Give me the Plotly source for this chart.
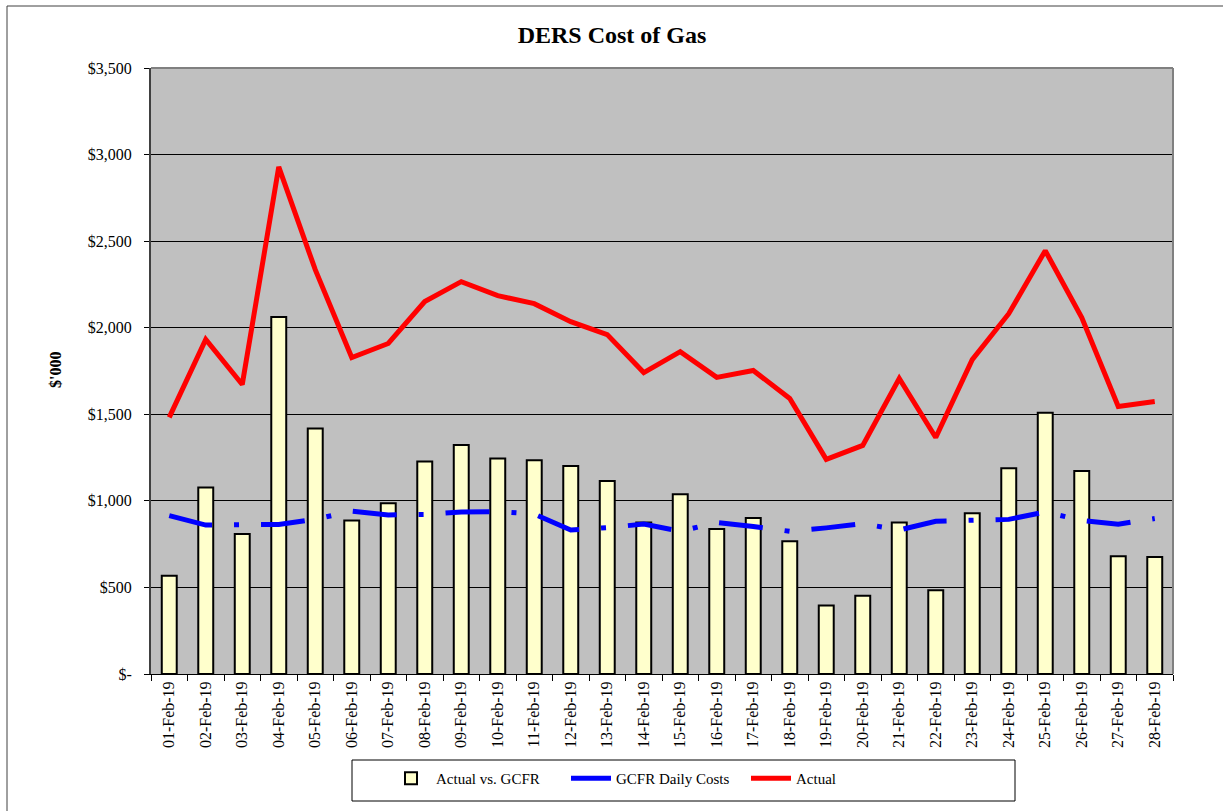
import plotly.graph_objects as go

dates = [f"{d:02d}-Feb-19" for d in range(1, 29)]

actual = [1482, 1932, 1672, 2929, 2335, 1828, 1909, 2151, 2266, 2185,
          2139, 2035, 1960, 1741, 1862, 1713, 1753, 1591, 1240, 1320,
          1707, 1366, 1816, 2081, 2445, 2058, 1545, 1574]

gcfr = [915, 860, 863, 863, 894, 940, 919, 921, 936, 938,
        924, 832, 845, 866, 824, 875, 852, 824, 844, 868,
        832, 882, 888, 893, 936, 886, 865, 898]

actual_vs_gcfr = [567, 1077, 809, 2062, 1418, 886, 986, 1228, 1322, 1245,
                  1234, 1201, 1115, 875, 1038, 838, 901, 767, 396, 452,
                  875, 484, 928, 1188, 1509, 1172, 680, 676]

y_tick_vals = [0, 500, 1000, 1500, 2000, 2500, 3000, 3500]
y_tick_text = ["$-", "$500", "$1,000", "$1,500", "$2,000", "$2,500", "$3,000", "$3,500"]

FONT = "Liberation Serif, Times New Roman, serif"

fig = go.Figure()
fig.add_trace(go.Bar(
    x=dates, y=actual_vs_gcfr, name="Actual vs. GCFR",
    marker=dict(color="#FFFFCC", line=dict(color="black", width=2)),
))
fig.add_trace(go.Scatter(
    x=dates, y=gcfr, name="GCFR Daily Costs", mode="lines",
    line=dict(color="#0000FF", width=5, dash="44px,22px,5px,22px"),
))
fig.add_trace(go.Scatter(
    x=dates, y=actual, name="Actual", mode="lines",
    line=dict(color="#FF0000", width=5),
))

L, R, T, B = 151, 50, 68, 137
W, H = 1223, 811
pw = W - L - R
ph = H - T - B

def px_x(p):
    return (p - L) / pw

def px_y(p):
    return (H - B - p) / ph

fig.update_layout(
    width=W, height=H,
    margin=dict(l=L, r=R, t=T, b=B),
    paper_bgcolor="white",
    plot_bgcolor="#C0C0C0",
    font=dict(family=FONT, size=15, color="black"),
    title=dict(text="<b>DERS Cost of Gas</b>", x=px_x(612), xref="paper",
               y=1 - 35 / H, yref="container", yanchor="middle", xanchor="center",
               font=dict(size=24, family=FONT, color="black")),
    bargap=0.59,
    showlegend=True,
    legend=dict(
        orientation="h", x=px_x(386), xanchor="left",
        y=px_y(762), yanchor="top",
        borderwidth=0, bgcolor="rgba(0,0,0,0)",
        font=dict(size=15, family=FONT),
        entrywidth=125, entrywidthmode="pixels",
        itemwidth=40,
    ),
    xaxis=dict(
        type="category", tickangle=-90, tickson="boundaries",
        ticks="outside", ticklen=6, tickcolor="black",
        showline=True, linecolor="black", linewidth=1,
        showgrid=False, tickfont=dict(size=16, family=FONT),
    ),
    yaxis=dict(
        range=[0, 3500], tickvals=y_tick_vals, ticktext=y_tick_text,
        ticks="outside", ticklen=5, tickcolor="black",
        ticklabelstandoff=9,
        showline=True, linecolor="#404040", linewidth=2,
        showgrid=True, gridcolor="black", gridwidth=1,
        zeroline=False, tickfont=dict(size=16, family=FONT),
    ),
    shapes=[
        dict(type="line", xref="paper", yref="paper", x0=0, x1=1, y0=1, y1=1,
             line=dict(color="#808080", width=2)),
        dict(type="line", xref="paper", yref="paper", x0=1, x1=1, y0=0, y1=1,
             line=dict(color="#808080", width=2)),
        dict(type="line", xref="paper", yref="paper", x0=px_x(7), x1=px_x(1230),
             y0=px_y(6), y1=px_y(6), line=dict(color="#404040", width=1)),
        dict(type="line", xref="paper", yref="paper", x0=px_x(7), x1=px_x(7),
             y0=px_y(6), y1=px_y(820), line=dict(color="#404040", width=1)),
        dict(type="rect", xref="paper", yref="paper", x0=px_x(352), x1=px_x(1015),
             y0=px_y(760), y1=px_y(801), line=dict(color="black", width=1),
             fillcolor="white", layer="below"),
    ],
    annotations=[
        dict(text="<b>$'000</b>", xref="paper", yref="paper",
             x=px_x(55), y=px_y(370), textangle=-90, showarrow=False,
             font=dict(size=16, family=FONT), xanchor="center", yanchor="middle"),
    ],
)

fig.write_html("out.html", config={"displayModeBar": False},
               post_script="document.body.style.margin='0';")
